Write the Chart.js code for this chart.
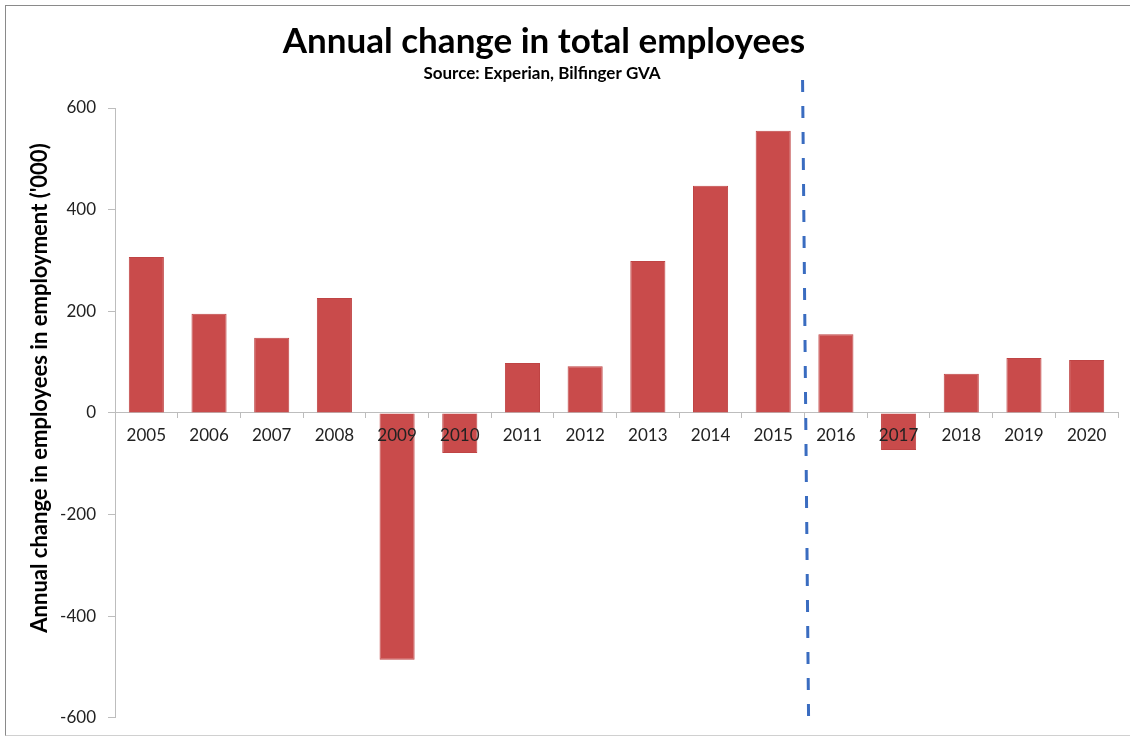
<!DOCTYPE html>
<html>
<head>
<meta charset="utf-8">
<script src="https://cdn.jsdelivr.net/npm/chart.js@4.4.1/dist/chart.umd.min.js"></script>
<style>
  html, body { margin: 0; padding: 0; background: #ffffff; }
  #wrap { position: relative; width: 1130px; height: 740px; }
  #frame { position: absolute; left: 5px; top: 5px; width: 1125px; height: 731px;
           border-left: 1.5px solid #8a8a8a; border-top: 1.5px solid #8a8a8a; border-bottom: 1px solid #d0d0d0; box-sizing: border-box; pointer-events: none; }
  canvas { position: absolute; left: 0; top: 0; }
</style>
</head>
<body>
<div id="wrap">
  <canvas id="c" width="1130" height="740"></canvas>
  <div id="frame"></div>
</div>
<script>
const years = ['2005','2006','2007','2008','2009','2010','2011','2012','2013','2014','2015','2016','2017','2018','2019','2020'];
const changeValues = [307, 195, 148, 226, -486, -79, 98, 92, 299, 447, 555, 155, -73, 77, 108, 104];
const yTicks = [-600, -400, -200, 0, 200, 400, 600];
const titleText = 'Annual change in total employees';
const subtitleText = 'Source: Experian, Bilfinger GVA';
const yTitleText = "Annual change in employees in employment ('000)";
const forecastStartIndex = 11; // dashed divider before 2016

const FONT = "Lato, 'Open Sans', 'DejaVu Sans', sans-serif";

const dividerPlugin = {
  id: 'divider',
  afterDatasetsDraw(chart) {
    const x = chart.scales.x;
    const ctx = chart.ctx;
    const xb = (x.getPixelForValue(forecastStartIndex - 1) + x.getPixelForValue(forecastStartIndex)) / 2;
    ctx.save();
    ctx.strokeStyle = '#3a6cc0';
    ctx.lineWidth = 3;
    ctx.setLineDash([12, 14]);
    ctx.beginPath();
    ctx.moveTo(xb - 2, 80);
    ctx.lineTo(xb + 4, chart.chartArea.bottom);
    ctx.stroke();
    ctx.restore();
  }
};

const textPlugin = {
  id: 'texts',
  afterDraw(chart) {
    const ctx = chart.ctx;
    ctx.save();
    ctx.fillStyle = '#000';
    ctx.textAlign = 'center';
    ctx.textBaseline = 'middle';
    ctx.font = "bold 35px " + FONT;
    ctx.fillText(titleText, 544, 42);
    ctx.font = "bold 17px " + FONT;
    ctx.fillText(subtitleText, 542, 74);
    ctx.translate(40, 388);
    ctx.rotate(-Math.PI / 2);
    ctx.font = "bold 22px " + FONT;
    ctx.fillText(yTitleText, 0, 0);
    ctx.restore();
  }
};

new Chart(document.getElementById('c'), {
  type: 'bar',
  data: {
    labels: years,
    datasets: [{
      data: changeValues,
      backgroundColor: '#c94b4b',
      borderColor: '#bf4444',
      borderWidth: 1,
      barPercentage: 0.56,
      categoryPercentage: 1.0
    }]
  },
  options: {
    responsive: false,
    animation: false,
    layout: { padding: { top: 108, bottom: 20, right: 12, left: 0 } },
    plugins: {
      legend: { display: false },
      tooltip: { enabled: false },
      title: { display: false },
      subtitle: { display: false }
    },
    scales: {
      x: {
        position: { y: 0 },
        grid: { drawOnChartArea: false, drawTicks: true, tickLength: 5, color: '#bdbdbd', offset: true },
        border: { color: '#bdbdbd', width: 1 },
        ticks: { z: 2, color: '#222', font: { family: FONT, size: 17 }, padding: 7, maxRotation: 0, autoSkip: false }
      },
      y: {
        min: -600,
        max: 600,
        afterBuildTicks(scale) { scale.ticks = yTicks.map(v => ({ value: v })); },
        afterFit(scale) { scale.width = 115; },
        grid: { drawOnChartArea: false, drawTicks: true, tickLength: 7, color: '#bdbdbd' },
        border: { color: '#bdbdbd', width: 1 },
        ticks: { color: '#222', font: { family: FONT, size: 17 }, padding: 12 }
      }
    }
  },
  plugins: [dividerPlugin, textPlugin]
});
</script>
</body>
</html>
